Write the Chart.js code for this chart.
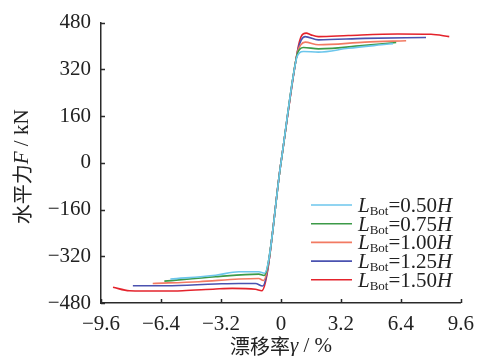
<!DOCTYPE html>
<html>
<head>
<meta charset="utf-8">
<script src="https://cdn.jsdelivr.net/npm/chart.js@4/dist/chart.umd.min.js"></script>
<style>
html,body{margin:0;padding:0;background:#fff;}
canvas{display:block;}
</style>
</head>
<body>
<canvas id="c" width="483" height="356"></canvas>
<script>
// ---- data ----
const seriesNames = ['0.50', '0.75', '1.00', '1.25', '1.50'];
const seriesColors = ['#6cc6ec', '#3c9a48', '#f27a62', '#4a52b0', '#e4232c'];

const x050 = [-5.9, -3.48, -2.24, -1.18, -0.88, 0, 0.83, 1.0, 1.2, 2.0, 3.59, 5.36, 5.98];
const y050 = [-398, -385, -373, -373, -378, 0, 357, 377, 381, 379, 392, 404, 408];

const x075 = [-6.22, -3.48, -1.18, -0.9, 0, 0.86, 1.02, 1.2, 2.0, 4.48, 6.15];
const y075 = [-405, -390, -381, -386, 0, 370, 390, 395, 390, 402, 412];

const x100 = [-6.84, -4.37, -2.24, -1.18, -0.94, 0, 0.88, 1.05, 1.29, 2.0, 4.48, 6.68];
const y100 = [-413, -407, -398, -396, -403, 0, 378, 403, 413, 404, 413, 418];

const x125 = [-7.90, -6.13, -3.48, -2.24, -1.36, -0.98, 0, 0.9, 1.08, 1.29, 2.0, 4.48, 7.74];
const y125 = [-421, -421, -415, -413, -413, -422, 0, 386, 420, 432, 421, 426, 429];

const x150 = [-8.96, -8.08, -6.5, -5.25, -3.48, -2.60, -1.36, -1.02, 0, 0.93, 1.06, 1.2, 1.35, 1.6, 2.0, 3.59, 6.24, 8.01, 8.98];
const y150 = [-426, -438, -439, -438, -432, -430, -433, -438, 0, 399, 430, 442, 444, 438, 432, 436, 441, 440, 432];

const xTickVals = [-9.6, -6.4, -3.2, 0, 3.2, 6.4, 9.6];
const xTickLabels = ['\u22129.6', '\u22126.4', '\u22123.2', '0', '3.2', '6.4', '9.6'];
const yTickVals = [-480, -320, -160, 0, 160, 320, 480];
const yTickLabels = ['\u2212480', '\u2212320', '\u2212160', '0', '160', '320', '480'];

// ---- build ----
const seriesX = [x050, x075, x100, x125, x150];
const seriesY = [y050, y075, y100, y125, y150];

const SERIF = '"Liberation Serif", "Times New Roman", serif';
const CJK = '"Noto Sans CJK SC", sans-serif';
const AXIS = '#2a2a2a';
const FS = 21;

const datasets = seriesNames.map((n, i) => ({
  label: 'L_Bot=' + n + 'H',
  data: seriesX[i].map((x, k) => ({x: x, y: seriesY[i][k]})),
  borderColor: seriesColors[i],
  backgroundColor: seriesColors[i],
  borderWidth: 1.6,
  pointRadius: 0,
  showLine: true,
  cubicInterpolationMode: 'monotone',
  fill: false
}));

function drawRuns(ctx, runs, x, y, align) {
  let total = 0;
  runs.forEach(r => { ctx.font = r.font; r.w = ctx.measureText(r.text).width; total += r.w; });
  let cx = align === 'center' ? x - total / 2 : x;
  runs.forEach(r => {
    ctx.font = r.font;
    ctx.fillText(r.text, cx, y + (r.dy || 0));
    cx += r.w;
  });
}

const decor = {
  id: 'decor',
  afterDraw(chart) {
    const ctx = chart.ctx;
    const xs = chart.scales.x, ys = chart.scales.y;
    const a = chart.chartArea;
    ctx.save();
    // inward tick marks
    ctx.strokeStyle = AXIS;
    ctx.lineWidth = 1.5;
    ctx.beginPath();
    xTickVals.forEach(v => {
      const px = Math.round(xs.getPixelForValue(v)) + 0.5;
      ctx.moveTo(px, a.bottom); ctx.lineTo(px, a.bottom - 4);
    });
    yTickVals.forEach(v => {
      const py = Math.round(ys.getPixelForValue(v)) + 0.5;
      ctx.moveTo(a.left, py); ctx.lineTo(a.left + 4, py);
    });
    ctx.stroke();

    ctx.fillStyle = '#222';
    ctx.textBaseline = 'middle';
    ctx.textAlign = 'left';
    // y title
    ctx.save();
    ctx.translate(22, (a.top + a.bottom) / 2 + 4);
    ctx.rotate(-Math.PI / 2);
    drawRuns(ctx, [
      {text: '水平力', font: '20px ' + CJK},
      {text: 'F', font: 'italic ' + FS + 'px ' + SERIF},
      {text: ' / kN', font: FS + 'px ' + SERIF}
    ], 0, 0, 'center');
    ctx.restore();
    // x title
    drawRuns(ctx, [
      {text: '漂移率', font: '20px ' + CJK},
      {text: 'γ', font: 'italic ' + FS + 'px ' + SERIF},
      {text: ' / %', font: FS + 'px ' + SERIF}
    ], (a.left + a.right) / 2, 346, 'center');

    // legend
    const lx0 = 311, lx1 = 352, tx = 358, top = 205, step = 18.7;
    chart.data.datasets.forEach((ds, i) => {
      const yy = top + i * step;
      ctx.strokeStyle = ds.borderColor;
      ctx.lineWidth = 1.6;
      ctx.beginPath();
      ctx.moveTo(lx0, yy); ctx.lineTo(lx1, yy);
      ctx.stroke();
      ctx.fillStyle = '#222';
      ctx.textBaseline = 'alphabetic';
      drawRuns(ctx, [
        {text: 'L', font: 'italic ' + FS + 'px ' + SERIF},
        {text: 'Bot', font: '13px ' + SERIF, dy: 3},
        {text: '=' + seriesNames[i], font: FS + 'px ' + SERIF},
        {text: 'H', font: 'italic ' + FS + 'px ' + SERIF}
      ], tx, yy + 7, 'left');
    });
    ctx.restore();
  }
};

new Chart(document.getElementById('c'), {
  type: 'scatter',
  data: {datasets: datasets},
  options: {
    responsive: false,
    animation: false,
    devicePixelRatio: 1,
    layout: {padding: {left: 0, right: 20, top: 21, bottom: 0}},
    plugins: {legend: {display: false}, tooltip: {enabled: false}},
    scales: {
      x: {
        type: 'linear', min: -9.6, max: 9.6,
        afterBuildTicks: s => { s.ticks = xTickVals.map(v => ({value: v})); },
        afterFit: s => { s.height = 53; },
        grid: {display: false, drawTicks: false},
        border: {display: true, color: AXIS, width: 1.5},
        ticks: {
          color: '#222', padding: 9, maxRotation: 0, autoSkip: false,
          font: {family: SERIF, size: FS},
          callback: (v) => { const k = xTickVals.findIndex(t => Math.abs(t - v) < 1e-6); return k >= 0 ? xTickLabels[k] : ''; }
        }
      },
      y: {
        type: 'linear', min: -480, max: 480,
        afterBuildTicks: s => { s.ticks = yTickVals.map(v => ({value: v})); },
        afterFit: s => { s.width = 101; },
        grid: {display: false, drawTicks: false},
        border: {display: true, color: AXIS, width: 1.5},
        ticks: {
          color: '#222', padding: 10, autoSkip: false,
          font: {family: SERIF, size: FS},
          callback: (v) => { const k = yTickVals.findIndex(t => Math.abs(t - v) < 1e-6); return k >= 0 ? yTickLabels[k] : ''; }
        }
      }
    }
  },
  plugins: [decor]
});
</script>
</body>
</html>
